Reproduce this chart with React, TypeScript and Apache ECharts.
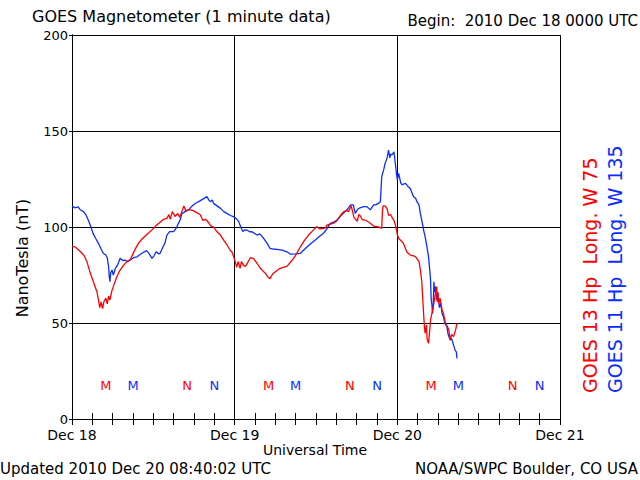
import React, { useEffect, useRef } from "react";
import * as echarts from "echarts";

// Hours since 2010 Dec 18 00:00 UT
const dayLabels = ["Dec 18", "Dec 19", "Dec 20", "Dec 21"];

const g13Hours = [
  0.0, 0.5, 1.0, 1.3, 1.8, 2.2, 2.7, 3.1, 3.4, 3.7, 3.9, 4.1, 4.3, 4.5, 4.7, 5.0, 5.2, 5.4, 5.6, 5.9,
  6.2, 6.6, 7.0, 7.6, 8.1, 8.6, 9.0, 9.4, 9.8, 10.4, 11.0, 11.8, 12.5, 13.0, 13.5, 14.0, 14.3, 14.5, 14.8, 15.2,
  15.6, 15.9, 16.2, 16.5, 16.8, 17.3, 17.9, 18.4, 18.9, 19.3, 19.7, 20.1, 20.5, 20.9, 21.4, 21.9, 22.4, 22.9, 23.3, 23.6,
  24.0, 24.3, 24.5, 24.8, 25.0, 25.3, 25.6, 26.0, 26.3, 26.8, 27.3, 27.8, 28.2, 28.5, 28.9, 29.2, 29.6, 30.0, 30.7, 31.2,
  31.7, 32.2, 32.7, 33.2, 33.7, 34.3, 34.9, 35.5, 36.1, 36.6, 37.1, 37.4, 37.6, 38.1, 38.6, 39.0, 39.3, 39.7, 40.1, 40.5,
  40.8, 41.0, 41.2, 41.4, 41.6, 42.1, 42.3, 42.5, 42.8, 43.3, 43.8, 44.0, 44.5, 45.0, 45.3, 45.7, 45.8, 45.9, 46.2, 46.5,
  46.7, 47.0, 47.3, 47.5, 47.8, 48.0, 48.2, 48.7, 48.9, 49.4, 49.9, 50.4, 50.7, 51.2, 51.4, 51.6, 51.7, 51.9, 52.0, 52.1,
  52.3, 52.4, 52.6, 52.8, 52.9, 53.1, 53.4, 53.6, 53.8, 53.9, 54.0, 54.1, 54.3, 54.6, 54.8, 55.1, 55.4, 55.6, 55.8, 56.0,
  56.3, 56.6, 56.8,
];
const g13Values = [
  90, 89.5, 88, 87, 85, 82, 76, 72, 69, 66, 62, 58, 61, 57.5, 61, 63, 60, 64, 62, 67,
  70, 74, 77, 80, 82, 83, 86, 89, 91.5, 94, 96, 98.5, 101, 102.5, 104, 104.5, 106.5, 104, 108, 105.5,
  107, 105, 108, 111, 108.5, 109, 108.5, 107.5, 106.5, 103.5, 104, 102.5, 100.5, 100, 97.5, 95.8, 93, 90.5, 88, 87,
  83, 79, 82, 78.5, 82, 80, 79.5, 82, 84, 83.5, 81, 78.5, 77, 76, 74, 73, 75.5, 76.7, 78.5, 79,
  79.5, 81.5, 83.7, 86.5, 89.7, 93, 95.8, 98, 100.2, 99, 99.3, 99.5, 101, 101.5, 102, 103, 104.5, 106.5, 108, 108.5,
  108, 109.5, 111, 108, 105, 103, 106.5, 106, 104, 103.5, 102.5, 101.9, 100.5, 100.2, 100, 99.3, 108, 111, 111, 109.5,
  106, 106.5, 104.5, 103.5, 100, 96, 94, 92.3, 91.5, 87, 85.4, 85, 84.5, 82, 77.6, 72, 66, 53.3, 48, 44.6,
  49, 41.5, 39.4, 47, 51.6, 55, 60.3, 65, 69, 61, 66, 60.3, 63, 56.8, 55, 49.8, 48, 46.4, 41.1, 44,
  42.9, 46.4, 49.8,
];

const g11Hours = [
  0.0, 0.4, 0.9, 1.2, 1.7, 2.1, 2.4, 2.8, 3.1, 3.5, 3.9, 4.3, 4.6, 5.0, 5.2, 5.4, 5.5, 5.6, 5.7, 5.9,
  6.1, 6.4, 6.7, 7.1, 7.5, 7.8, 8.2, 8.6, 9.1, 9.6, 10.0, 10.3, 11.0, 11.4, 11.8, 12.1, 12.4, 12.8, 13.0, 13.4,
  13.7, 14.0, 14.4, 15.0, 15.4, 15.7, 16.0, 16.2, 16.7, 17.2, 17.6, 17.9, 18.3, 18.7, 19.3, 19.9, 20.2, 20.4, 20.7, 20.9,
  21.4, 21.9, 22.4, 22.9, 23.4, 23.8, 24.2, 24.6, 24.9, 25.2, 25.5, 25.8, 26.2, 26.5, 27.0, 27.3, 27.7, 28.3, 28.8, 29.2,
  29.7, 30.2, 31.0, 31.7, 32.2, 33.0, 33.7, 34.2, 34.7, 35.3, 35.9, 36.5, 37.1, 37.6, 38.1, 38.6, 39.1, 39.7, 40.3, 40.7,
  41.1, 41.5, 41.8, 42.1, 42.3, 42.7, 43.0, 43.5, 43.8, 44.0, 44.5, 44.8, 45.2, 45.5, 45.6, 45.7, 46.0, 46.2, 46.5, 46.7,
  46.9, 47.0, 47.2, 47.5, 47.7, 47.9, 48.0, 48.2, 48.5, 48.7, 49.0, 49.2, 49.6, 49.9, 50.2, 50.4, 50.7, 50.9, 51.2, 51.4,
  51.7, 51.9, 52.1, 52.4, 52.6, 52.8, 52.9, 53.0, 53.1, 53.2, 53.3, 53.4, 53.5, 53.6, 53.8, 54.0, 54.2, 54.4, 54.6, 54.8,
  55.0, 55.3, 55.5, 55.8, 56.0, 56.3, 56.5, 56.7, 56.8,
];
const g11Values = [
  111, 110, 110.5, 109, 108, 106, 103.6, 100, 96.7, 94, 91.5, 88.5, 86.3, 85.4, 84, 79.3, 74, 71.5, 76, 77.6,
  75, 78.5, 80, 83.7, 82.5, 82.8, 82, 82.8, 84, 84.5, 85.5, 86.3, 87.7, 86, 83.7, 85, 87.1, 86, 86.3, 89.5,
  91.5, 95.8, 97.6, 97.6, 99.5, 101.9, 104, 107, 108, 108.9, 110.5, 111.5, 112.5, 113.2, 114.5, 115.8, 114, 113.2, 114, 112.3,
  111, 109.7, 108, 107, 106, 105.4, 104.5, 102.8, 100, 97.6, 98.5, 98.4, 97.5, 97.6, 96.5, 95.8, 96.4, 94, 91.5, 88.9,
  88.5, 88.4, 88, 87.1, 85.9, 86, 86.3, 88, 89.7, 91.5, 93.2, 95, 96.7, 99, 101.9, 102.5, 103.6, 106, 108, 109.5,
  111.5, 111.5, 107, 109, 109.7, 110.2, 110.6, 110.6, 109.7, 108.9, 111.5, 111.5, 112.3, 113.2, 120, 126.2, 130, 133.2, 136, 140.1,
  136, 138, 137.5, 139.2, 133.2, 127, 124.5, 127.9, 123, 121.9, 122.5, 122.7, 121, 120.1, 117.5, 115.8, 115, 113.2, 111.5, 107,
  101.9, 98, 95, 89, 84.5, 77, 72.4, 62, 59.4, 55, 60, 71.5, 66, 69, 62, 65.5, 58, 60.3, 55, 53.3,
  50, 48.1, 44, 41.1, 42, 38.5, 36, 35, 31.6,
];

// Local midnight (M) and noon (N) markers
const g13MarkHours = [5, 17, 29, 41, 53, 65];
const g11MarkHours = [9, 21, 33, 45, 57, 69];
const markNames = ["M", "N", "M", "N", "M", "N"];
const markLevel = 17.5;

const RED = "#ff0000";
const BLUE = "#0a2eff";
const FONT = "DejaVu Sans";

export default function App() {
  const ref = useRef<HTMLDivElement>(null);

  useEffect(() => {
    if (!ref.current) return;
    const chart = echarts.init(ref.current, null, { renderer: "svg" });
    const pair = (hs: number[], vs: number[]) => hs.map((h, i) => [h, vs[i]]);
    const marks = (hs: number[]) => hs.map((h, i) => ({ value: [h, markLevel], name: markNames[i] }));

    const xCommon = {
      type: "value" as const,
      min: 0,
      max: 72,
      interval: 24,
      axisLine: { show: true, lineStyle: { color: "#000", width: 1 } },
      axisTick: { show: true, inside: true, length: 6, lineStyle: { color: "#000" } },
      minorTick: { show: true, splitNumber: 8, length: 6, lineStyle: { color: "#000", width: 1 } },
    };

    const markLabel = (color: string) => ({
      show: true,
      position: "inside",
      formatter: (p: any) => p.name,
      color,
      fontSize: 13,
      fontFamily: FONT,
      textBorderWidth: 0,
      textBorderColor: "transparent",
      opacity: 1,
    });

    chart.setOption({
      animation: false,
      backgroundColor: "#fff",
      textStyle: { fontFamily: FONT },
      grid: { left: 72, right: 80, top: 35, bottom: 61, show: false },
      xAxis: [
        {
          ...xCommon,
          position: "bottom",
          splitLine: { show: true, lineStyle: { color: "#000", width: 1 } },
          axisLabel: {
            color: "#000",
            fontSize: 14,
            fontFamily: FONT,
            margin: 9,
            formatter: (v: number) => dayLabels[Math.round(v / 24)] ?? "",
          },
        },
        {
          ...xCommon,
          position: "top",
          splitLine: { show: false },
          axisLabel: { show: false },
        },
      ],
      yAxis: [
        {
          type: "value",
          min: 0,
          max: 200,
          interval: 50,
          position: "left",
          axisLine: { show: true, lineStyle: { color: "#000", width: 1 } },
          axisTick: { show: true, inside: false, length: 3, lineStyle: { color: "#000" } },
          splitLine: { show: true, lineStyle: { color: "#000", width: 1 } },
          axisLabel: { color: "#000", fontSize: 13, fontFamily: FONT, margin: 4 },
        },
        {
          type: "value",
          min: 0,
          max: 200,
          interval: 50,
          position: "right",
          axisLine: { show: true, lineStyle: { color: "#000", width: 1 } },
          axisTick: { show: false },
          splitLine: { show: false },
          axisLabel: { show: false },
        },
      ],
      series: [
        {
          type: "line",
          name: "GOES 13",
          data: pair(g13Hours, g13Values),
          showSymbol: false,
          symbol: "none",
          lineStyle: { color: RED, width: 1.3 },
          itemStyle: { color: RED },
          z: 3,
        },
        {
          type: "line",
          name: "GOES 11",
          data: pair(g11Hours, g11Values),
          showSymbol: false,
          symbol: "none",
          lineStyle: { color: BLUE, width: 1.3 },
          itemStyle: { color: BLUE },
          z: 2,
        },
        {
          type: "scatter",
          data: marks(g13MarkHours),
          symbolSize: 0,
          itemStyle: { color: RED, opacity: 1 },
          label: markLabel(RED),
        },
        {
          type: "scatter",
          data: marks(g11MarkHours),
          symbolSize: 0,
          itemStyle: { color: BLUE, opacity: 1 },
          label: markLabel(BLUE),
        },
      ],
      graphic: [
        {
          type: "text",
          left: 32,
          top: 8,
          style: { text: "GOES Magnetometer (1 minute data)", fill: "#000", fontSize: 16, fontFamily: FONT },
        },
        {
          type: "text",
          right: 2,
          top: 13,
          style: { text: "Begin:  2010 Dec 18 0000 UTC", fill: "#000", fontSize: 15, fontFamily: FONT },
        },
        {
          type: "text",
          x: 22,
          y: 258,
          rotation: Math.PI / 2,
          style: {
            text: "NanoTesla (nT)",
            fill: "#000",
            fontSize: 16,
            fontFamily: FONT,
            textAlign: "center",
            textVerticalAlign: "middle",
          },
        },
        {
          type: "text",
          x: 590,
          y: 393,
          rotation: Math.PI / 2,
          style: {
            text: "GOES 13 Hp  Long. W 75",
            fill: RED,
            fontSize: 19,
            fontFamily: FONT,
            textAlign: "left",
            textVerticalAlign: "middle",
          },
        },
        {
          type: "text",
          x: 615,
          y: 393,
          rotation: Math.PI / 2,
          style: {
            text: "GOES 11 Hp  Long. W 135",
            fill: BLUE,
            fontSize: 19,
            fontFamily: FONT,
            textAlign: "left",
            textVerticalAlign: "middle",
          },
        },
        {
          type: "text",
          x: 315,
          y: 450,
          style: {
            text: "Universal Time",
            fill: "#000",
            fontSize: 14,
            fontFamily: FONT,
            textAlign: "center",
            textVerticalAlign: "middle",
          },
        },
        {
          type: "text",
          x: 0,
          y: 469,
          style: {
            text: "Updated 2010 Dec 20 08:40:02 UTC",
            fill: "#000",
            fontSize: 15,
            fontFamily: FONT,
            textAlign: "left",
            textVerticalAlign: "middle",
          },
        },
        {
          type: "text",
          x: 638,
          y: 469,
          style: {
            text: "NOAA/SWPC Boulder, CO USA",
            fill: "#000",
            fontSize: 15,
            fontFamily: FONT,
            textAlign: "right",
            textVerticalAlign: "middle",
          },
        },
      ],
    });
    return () => chart.dispose();
  }, []);

  return (
    <div
      ref={ref}
      style={{ position: "fixed", left: 0, top: 0, width: 640, height: 480, background: "#fff" }}
    />
  );
}
